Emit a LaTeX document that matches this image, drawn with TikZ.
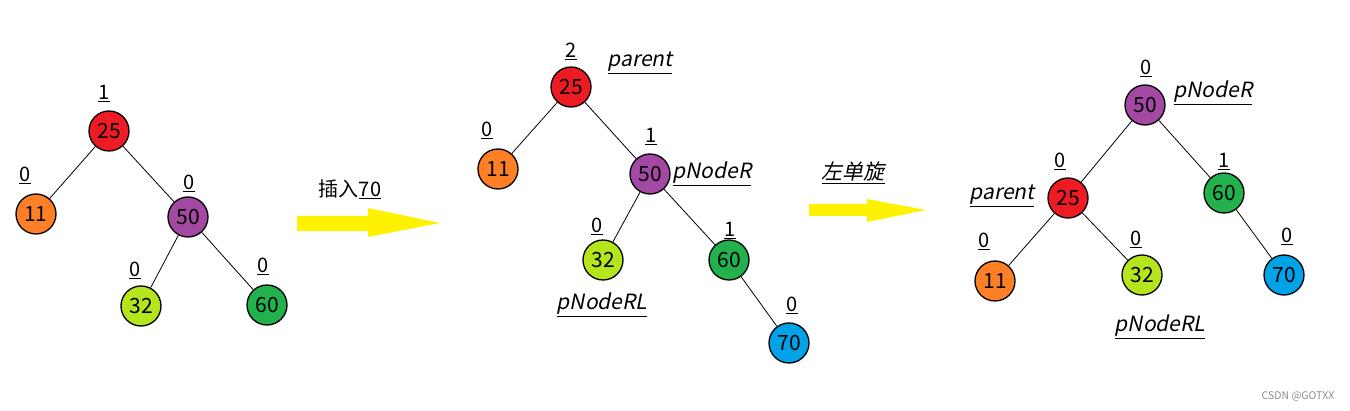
\documentclass[tikz,border=0pt]{standalone}
\usepackage{fontspec}
\setmainfont{Noto Sans CJK SC}
\newfontfamily\slfont[FakeSlant=0.2]{Noto Sans CJK SC}
\definecolor{cred}{HTML}{ED1C24}
\definecolor{corange}{HTML}{FF7F27}
\definecolor{cpurple}{HTML}{A349A4}
\definecolor{clime}{HTML}{B5E61D}
\definecolor{cgreen}{HTML}{22B14C}
\definecolor{cblue}{HTML}{00A2E8}
\definecolor{cyellow}{HTML}{FFF200}
\begin{document}
\begin{tikzpicture}[x=1pt,y=-1pt,
  nd/.style={circle,draw=black,line width=1.3pt,minimum size=40pt,inner sep=0pt,font=\fontsize{21}{21}\selectfont},
  bfac/.style={anchor=base,inner sep=0pt,font=\fontsize{20}{20}\selectfont},
  lbl/.style={anchor=base,inner sep=0pt,font=\fontsize{21}{21}\selectfont\slfont},
  edge/.style={draw=black,line width=0.8pt},
  bigarrow/.style={fill=cyellow}]
\useasboundingbox (0,0) rectangle (1350,411);
% ---------- tree 1 ----------
\node[nd,fill=cred]    (a25) at (109,131) {25};
\node[nd,fill=corange] (a11) at (36,214) {11};
\node[nd,fill=cpurple] (a50) at (188,217) {50};
\node[nd,fill=clime]   (a32) at (141,306) {32};
\node[nd,fill=cgreen]  (a60) at (267,305) {60};
\draw[edge] (a25) -- (a11);
\draw[edge] (a25) -- (a50);
\draw[edge] (a50) -- (a32);
\draw[edge] (a50) -- (a60);
\node[bfac] (ab25) at (104,100) {\underline{1}};
\node[bfac] (ab11) at (25,182) {\underline{0}};
\node[bfac] (ab50) at (189,190) {\underline{0}};
\node[bfac] (ab32) at (135,277) {\underline{0}};
\node[bfac] (ab60) at (263,273) {\underline{0}};
% ---------- arrow 1 ----------
\fill[bigarrow] (297,216) -- (368,216) -- (368,208) -- (440,223) -- (368,237) -- (368,231) -- (297,231) -- cycle;
\node[bfac] (ins) at (350,197) {插入\underline{70}};
% ---------- tree 2 ----------
\node[nd,fill=cred]    (b25) at (571,87) {25};
\node[nd,fill=corange] (b11) at (498,169) {11};
\node[nd,fill=cpurple] (b50) at (650,174) {50};
\node[nd,fill=clime]   (b32) at (603,260) {32};
\node[nd,fill=cgreen]  (b60) at (729,260) {60};
\node[nd,fill=cblue]   (b70) at (789,343) {70};
\draw[edge] (b25) -- (b11);
\draw[edge] (b25) -- (b50);
\draw[edge] (b50) -- (b32);
\draw[edge] (b50) -- (b60);
\draw[edge] (b60) -- (b70);
\node[bfac] (bb25) at (571,58) {\underline{2}};
\node[bfac] (bb11) at (487,137) {\underline{0}};
\node[bfac] (bb50) at (651,143) {\underline{1}};
\node[bfac] (bb32) at (597,233) {\underline{0}};
\node[bfac] (bb60) at (730,237) {\underline{1}};
\node[bfac] (bb70) at (792,312) {\underline{0}};
\node[lbl] (bpar) at (640,67) {\underline{parent}};
\node[lbl] (bpr)  at (712,179) {\underline{pNodeR}};
\node[lbl] (bprl) at (602,310) {\underline{pNodeRL}};
% ---------- arrow 2 ----------
\fill[bigarrow] (809,204) -- (867,204) -- (867,199) -- (926,210) -- (867,222) -- (867,216) -- (809,216) -- cycle;
\node[lbl] (rot) at (853,180) {\underline{左单旋}};
% ---------- tree 3 ----------
\node[nd,fill=cpurple] (c50) at (1145,105) {50};
\node[nd,fill=cred]    (c25) at (1068,198) {25};
\node[nd,fill=cgreen]  (c60) at (1224,193) {60};
\node[nd,fill=corange] (c11) at (995,281) {11};
\node[nd,fill=clime]   (c32) at (1142,275) {32};
\node[nd,fill=cblue]   (c70) at (1284,275) {70};
\draw[edge] (c50) -- (c25);
\draw[edge] (c50) -- (c60);
\draw[edge] (c25) -- (c11);
\draw[edge] (c25) -- (c32);
\draw[edge] (c60) -- (c70);
\node[bfac] (cb50) at (1146,75) {\underline{0}};
\node[bfac] (cb25) at (1060,168) {\underline{0}};
\node[bfac] (cb60) at (1224,168) {\underline{1}};
\node[bfac] (cb11) at (984,248) {\underline{0}};
\node[bfac] (cb32) at (1136,246) {\underline{0}};
\node[bfac] (cb70) at (1287,243) {\underline{0}};
\node[lbl] (cpr)  at (1213,98) {\underline{pNodeR}};
\node[lbl] (cpar) at (1002,200) {\underline{parent}};
\node[lbl] (cprl) at (1160,332) {\underline{pNodeRL}};
% ---------- watermark ----------
\node[anchor=base,inner sep=0pt,text=black!45,font=\fontsize{10.5}{10.5}\selectfont] (wm) at (1298,400) {CSDN @GOTXX};
\end{tikzpicture}
\end{document}
